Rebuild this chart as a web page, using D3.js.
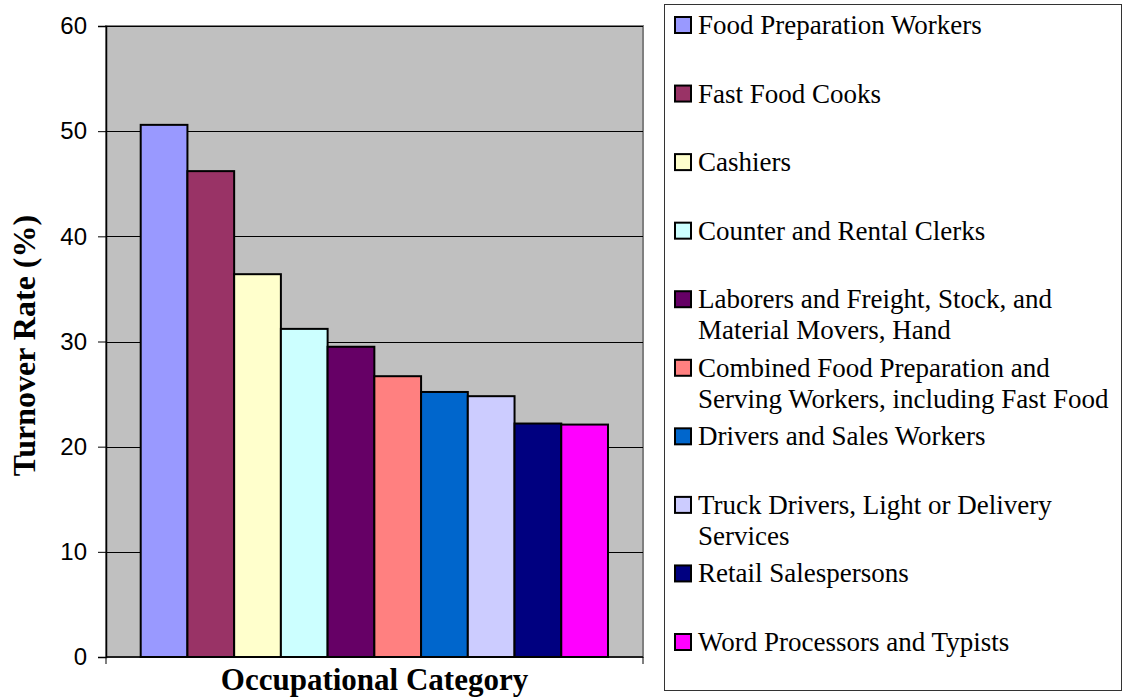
<!DOCTYPE html>
<html>
<head>
<meta charset="utf-8">
<script src="https://cdn.jsdelivr.net/npm/d3@7"></script>
<style>
  html, body { margin: 0; padding: 0; background: #ffffff; }
  svg { display: block; }
</style>
</head>
<body>
<svg id="chart" width="1123" height="700"></svg>
<script>
// ---- data ----
const categories = [
  "Food Preparation Workers",
  "Fast Food Cooks",
  "Cashiers",
  "Counter and Rental Clerks",
  "Laborers and Freight, Stock, and Material Movers, Hand",
  "Combined Food Preparation and Serving Workers, including Fast Food",
  "Drivers and Sales Workers",
  "Truck Drivers, Light or Delivery Services",
  "Retail Salespersons",
  "Word Processors and Typists"
];
const legendLines = [
  ["Food Preparation Workers"],
  ["Fast Food Cooks"],
  ["Cashiers"],
  ["Counter and Rental Clerks"],
  ["Laborers and Freight, Stock, and", "Material Movers, Hand"],
  ["Combined Food Preparation and", "Serving Workers, including Fast Food"],
  ["Drivers and Sales Workers"],
  ["Truck Drivers, Light or Delivery", "Services"],
  ["Retail Salespersons"],
  ["Word Processors and Typists"]
];
const values = [50.6, 46.2, 36.4, 31.2, 29.5, 26.7, 25.2, 24.8, 22.2, 22.1];
const colors = ["#9999FF", "#993366", "#FFFFCC", "#CCFFFF", "#660066",
                "#FF8080", "#0066CC", "#CCCCFF", "#000080", "#FF00FF"];
const yTicks = [0, 10, 20, 30, 40, 50, 60];
const yTitle = "Turnover Rate (%)";
const xTitle = "Occupational Category";

// ---- layout ----
const svg = d3.select("#chart");
const plot = { left: 106, right: 643, top: 26, bottom: 657 };
const barInsetL = 34.7, barInsetR = 35;

const y = d3.scaleLinear().domain([0, 60]).range([plot.bottom, plot.top]);
const x = d3.scaleBand().domain(categories)
  .range([plot.left + barInsetL, plot.right - barInsetR]).padding(0);
const color = d3.scaleOrdinal().domain(categories).range(colors);

// plot background
svg.append("rect")
  .attr("x", plot.left).attr("y", plot.top)
  .attr("width", plot.right - plot.left).attr("height", plot.bottom - plot.top)
  .attr("fill", "#C0C0C0").attr("stroke", "#808080").attr("stroke-width", 2);

// gridlines
svg.append("g").selectAll("line").data(yTicks.filter(d => d > 0)).join("line")
  .attr("x1", plot.left).attr("x2", plot.right)
  .attr("y1", d => Math.round(y(d)) + 0.5).attr("y2", d => Math.round(y(d)) + 0.5)
  .attr("stroke", "#000").attr("stroke-width", 1);

// bars
svg.append("g").selectAll("rect").data(categories).join("rect")
  .attr("x", d => x(d))
  .attr("y", (d, i) => y(values[i]))
  .attr("width", x.bandwidth())
  .attr("height", (d, i) => y(0) - y(values[i]))
  .attr("fill", d => color(d))
  .attr("stroke", "#000").attr("stroke-width", 2);

// y axis
const yAxis = d3.axisLeft(y).tickValues(yTicks).tickSize(8).tickPadding(11);
const yg = svg.append("g").attr("transform", `translate(${plot.left},0)`).call(yAxis);
yg.select(".domain").attr("stroke", "#000").attr("stroke-width", 1.5);
yg.selectAll(".tick line").attr("stroke", "#000");
yg.selectAll(".tick text")
  .attr("font-family", "'Liberation Sans', Arial, sans-serif")
  .attr("font-size", 24).attr("fill", "#000");

// x axis line with end ticks
svg.append("line")
  .attr("x1", plot.left).attr("x2", plot.right)
  .attr("y1", plot.bottom).attr("y2", plot.bottom)
  .attr("stroke", "#000").attr("stroke-width", 1.5);
[plot.left, plot.right].forEach(px => {
  svg.append("line").attr("x1", px).attr("x2", px)
    .attr("y1", plot.bottom).attr("y2", plot.bottom + 7)
    .attr("stroke", "#000").attr("stroke-width", 1);
});

// titles
svg.append("text")
  .attr("transform", `translate(35,${(plot.top + plot.bottom) / 2 + 4}) rotate(-90)`)
  .attr("text-anchor", "middle")
  .attr("font-family", "'Liberation Serif', 'Times New Roman', serif")
  .attr("font-weight", "bold").attr("font-size", 32)
  .text(yTitle);
svg.append("text")
  .attr("x", (plot.left + plot.right) / 2).attr("y", 690)
  .attr("text-anchor", "middle")
  .attr("font-family", "'Liberation Serif', 'Times New Roman', serif")
  .attr("font-weight", "bold").attr("font-size", 31)
  .text(xTitle);

// legend
const lg = { left: 664, top: 4, right: 1121, bottom: 690 };
svg.append("rect")
  .attr("x", lg.left + 0.5).attr("y", lg.top + 0.5)
  .attr("width", lg.right - lg.left).attr("height", lg.bottom - lg.top)
  .attr("fill", "#fff").attr("stroke", "#333").attr("stroke-width", 1);

const ly = d3.scalePoint().domain(categories).range([25, 642]);
const items = svg.append("g").selectAll("g").data(categories).join("g")
  .attr("transform", d => `translate(0,${ly(d)})`);
items.append("rect")
  .attr("x", 675).attr("y", -8).attr("width", 16).attr("height", 16)
  .attr("fill", d => color(d)).attr("stroke", "#000").attr("stroke-width", 2);
items.append("text")
  .attr("x", 698).attr("y", 9)
  .attr("font-family", "'Liberation Serif', 'Times New Roman', serif")
  .attr("font-size", 27).attr("fill", "#000")
  .selectAll("tspan").data((d, i) => legendLines[i]).join("tspan")
  .attr("x", 698).attr("dy", (d, j) => j === 0 ? 0 : 31)
  .text(d => d);
</script>
</body>
</html>
